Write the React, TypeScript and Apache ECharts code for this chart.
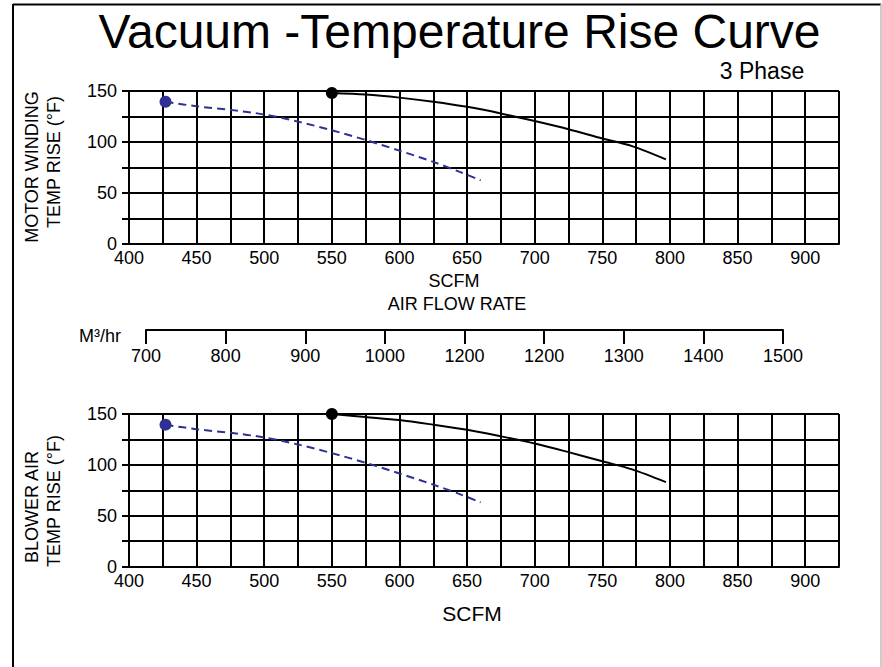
import React, { useEffect, useRef } from "react";
import * as echarts from "echarts";

const FONT = "'Liberation Sans', Arial, Helvetica, sans-serif";
const BLUE = "#2E3192";

// Axis ranges and tick labels
const scfmRange = [400, 925];
const scfmLabelTicks = [400, 450, 500, 550, 600, 650, 700, 750, 800, 850, 900];
const tempRange = [0, 150];
const tempLabelTicks = [0, 50, 100, 150];
const m3hrRange = [700, 1500];
const m3hrLabels = ["700", "800", "900", "1000", "1200", "1200", "1300", "1400", "1500"];

// Curves [SCFM, °F]
const motorBlack: [number, number][] = [
  [550, 148], [575, 146.5], [600, 143.5], [625, 139.5], [650, 134.5], [675, 128],
  [700, 120.5], [725, 112.5], [750, 103.5], [772, 96], [797, 83],
];
const motorBlue: [number, number][] = [
  [427, 139.5], [450, 135], [475, 131.5], [500, 127], [525, 120], [550, 111.5],
  [575, 102], [600, 91.5], [625, 80.5], [645, 70.5], [660, 62.5],
];
const blowerBlack: [number, number][] = [
  [550, 150], [575, 147], [600, 144], [625, 139.5], [650, 134.5], [675, 128],
  [700, 121], [725, 112.5], [750, 103.5], [772, 95.5], [797, 83],
];
const blowerBlue: [number, number][] = [
  [427, 139.5], [450, 135], [475, 131.5], [500, 127], [525, 120], [550, 111.5],
  [575, 102], [600, 91.5], [625, 80.5], [645, 71], [660, 63],
];

const axisText = { color: "#000", fontSize: 18, fontFamily: FONT };

function scfmAxis(gridIndex: number) {
  return {
    type: "value",
    gridIndex,
    min: scfmRange[0],
    max: scfmRange[1],
    interval: 25,
    axisLine: { show: true, lineStyle: { color: "#000", width: 2 } },
    axisTick: { show: false },
    splitLine: { show: true, lineStyle: { color: "#000", width: 2 } },
    axisLabel: {
      ...axisText,
      margin: 5,
      formatter: (v: number) => (scfmLabelTicks.includes(v) ? String(v) : ""),
    },
  };
}

function tempAxis(gridIndex: number) {
  return {
    type: "value",
    gridIndex,
    min: tempRange[0],
    max: tempRange[1],
    interval: 25,
    axisLine: { show: true, lineStyle: { color: "#000", width: 2 } },
    axisTick: { show: true, length: 7, lineStyle: { color: "#000", width: 2 } },
    splitLine: { show: true, lineStyle: { color: "#000", width: 2 } },
    axisLabel: {
      ...axisText,
      margin: 12,
      formatter: (v: number) => (tempLabelTicks.includes(v) ? String(v) : ""),
    },
  };
}

function curveSeries(idx: number, black: [number, number][], blue: [number, number][]) {
  return [
    {
      type: "line",
      xAxisIndex: idx,
      yAxisIndex: idx,
      data: black,
      symbol: "none",
      smooth: 0.3,
      lineStyle: { color: "#000", width: 2 },
      z: 5,
    },
    {
      type: "line",
      xAxisIndex: idx,
      yAxisIndex: idx,
      data: blue,
      symbol: "none",
      smooth: 0.3,
      lineStyle: { color: BLUE, width: 2, type: [8, 5] },
      z: 5,
    },
    {
      type: "scatter",
      xAxisIndex: idx,
      yAxisIndex: idx,
      data: [black[0]],
      symbol: "circle",
      symbolSize: 12,
      itemStyle: { color: "#000", opacity: 1 },
      clip: false,
      z: 6,
    },
    {
      type: "scatter",
      xAxisIndex: idx,
      yAxisIndex: idx,
      data: [blue[0]],
      symbol: "circle",
      symbolSize: 12,
      itemStyle: { color: BLUE, opacity: 1 },
      clip: false,
      z: 6,
    },
  ];
}

function txt(text: string, x: number, y: number, fontSize: number, rotation = 0) {
  return {
    type: "text",
    x,
    y,
    rotation,
    style: {
      text,
      fill: "#000",
      fontSize,
      fontFamily: FONT,
      textAlign: "center",
      textVerticalAlign: "middle",
    },
    z: 10,
  };
}

export default function App() {
  const ref = useRef<HTMLDivElement>(null);
  useEffect(() => {
    if (!ref.current) return;
    const chart = echarts.init(ref.current, undefined, { renderer: "svg" });
    const option = {
      animation: false,
      backgroundColor: "#fff",
      grid: [
        { left: 129, top: 91, width: 710, height: 153, show: false },
        { left: 129, top: 414, width: 710, height: 152.5, show: false },
        { left: 146, top: 329, width: 637, height: 1, show: false },
      ],
      xAxis: [
        scfmAxis(0),
        scfmAxis(1),
        {
          type: "value",
          gridIndex: 2,
          min: m3hrRange[0],
          max: m3hrRange[1],
          interval: 100,
          axisLine: { show: true, lineStyle: { color: "#000", width: 2 } },
          axisTick: { show: true, length: 14, lineStyle: { color: "#000", width: 2 } },
          splitLine: { show: false },
          axisLabel: {
            ...axisText,
            margin: 17,
            formatter: (v: number) =>
              m3hrLabels[Math.round((v - m3hrRange[0]) / 100)] ?? "",
          },
        },
      ],
      yAxis: [
        tempAxis(0),
        tempAxis(1),
        { type: "value", gridIndex: 2, min: 0, max: 1, show: false },
      ],
      series: [...curveSeries(0, motorBlack, motorBlue), ...curveSeries(1, blowerBlack, blowerBlue)],
      graphic: [
        { type: "line", shape: { x1: 13, y1: 4.5, x2: 881, y2: 4.5 }, style: { stroke: "#000", lineWidth: 2 } },
        { type: "line", shape: { x1: 13, y1: 4, x2: 13, y2: 667 }, style: { stroke: "#000", lineWidth: 2 } },
        { type: "line", shape: { x1: 881, y1: 4, x2: 881, y2: 667 }, style: { stroke: "#bbb", lineWidth: 1.5 } },
        txt("Vacuum -Temperature Rise Curve", 459.5, 31, 48),
        txt("3 Phase", 762, 71, 23),
        txt("MOTOR WINDING", 32, 167, 18, Math.PI / 2),
        txt("TEMP RISE (°F)", 54, 162, 18, Math.PI / 2),
        txt("SCFM", 454, 281, 18),
        txt("AIR FLOW RATE", 457, 304, 18),
        txt("M³/hr", 100, 336, 18),
        txt("BLOWER AIR", 32, 507, 18, Math.PI / 2),
        txt("TEMP RISE (°F)", 54, 501, 18, Math.PI / 2),
        txt("SCFM", 472, 613, 21),
      ],
    };
    chart.setOption(option as any);
    return () => chart.dispose();
  }, []);
  return (
    <div
      ref={ref}
      style={{ position: "fixed", left: 0, top: 0, width: 882, height: 667, background: "#fff" }}
    />
  );
}
